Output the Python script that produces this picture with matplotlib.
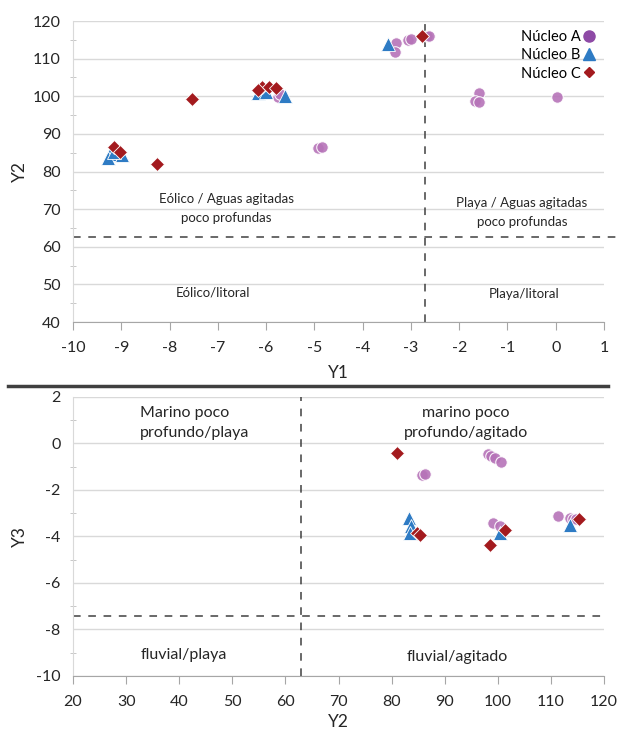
import matplotlib
matplotlib.use("Agg")
import matplotlib.pyplot as plt
from matplotlib.lines import Line2D
from matplotlib.ticker import MultipleLocator

plt.rcParams["font.family"] = ["Lato", "DejaVu Sans"]
plt.rcParams["axes.unicode_minus"] = False

# ── data: top panel (Y1 vs Y2) ──────────────────────────────────────
a_y1 = [-4.92, -4.85, -5.75, -5.71, -3.30, -3.33, -3.06, -3.00, -2.66, -2.62,
        -1.59, -1.68, -1.59, 0.03]
a_y2 = [86.3, 86.5, 99.7, 100.6, 114.2, 111.8, 114.9, 115.2, 116.1, 116.0,
        101.0, 98.8, 98.6, 99.9]
b_y1 = [-9.23, -9.27, -8.99, -9.15, -6.16, -6.00, -5.61, -3.47]
b_y2 = [84.6, 83.5, 84.4, 85.3, 101.0, 101.2, 100.1, 114.0]
c_y1 = [-9.15, -9.03, -8.27, -7.54, -6.09, -6.16, -5.94, -5.80, -2.78]
c_y2 = [86.4, 85.3, 81.9, 99.3, 102.4, 101.7, 102.4, 102.1, 116.1]

# ── data: bottom panel (Y2 vs Y3) ───────────────────────────────────
a2_y2 = [85.7, 86.2, 98.2, 98.8, 99.4, 100.6, 99.0, 100.5, 111.4, 113.6, 114.2, 114.8]
a2_y3 = [-1.35, -1.30, -0.45, -0.55, -0.62, -0.80, -3.40, -3.57, -3.12, -3.22, -3.26, -3.25]
b2_y2 = [83.3, 83.6, 83.5, 100.4, 113.6]
b2_y3 = [-3.22, -3.55, -3.84, -3.85, -3.50]
c2_y2 = [81.1, 84.8, 85.3, 101.4, 98.5, 115.2]
c2_y3 = [-0.40, -3.84, -3.92, -3.74, -4.36, -3.26]

series = ["Núcleo A", "Núcleo B", "Núcleo C"]

COL_A = "#B673B8"
COL_A_LEG = "#8E4AA6"
COL_B = "#2E7BC4"
COL_C = "#A31A1E"
GRID = "#D9D9D9"
DASH = "#404040"

fig = plt.figure(figsize=(6.22, 7.33), dpi=100)
fig.patch.set_facecolor("white")
ax1 = fig.add_axes([0.1174, 0.5607, 0.8537, 0.4106])
ax2 = fig.add_axes([0.1174, 0.0778, 0.8537, 0.3806])


def style(ax):
    for s in ("top", "right"):
        ax.spines[s].set_visible(False)
    ax.spines["left"].set_color(GRID)
    ax.spines["bottom"].set_color("#A6A6A6")
    ax.grid(axis="y", color=GRID, lw=1.0)
    ax.set_axisbelow(True)
    ax.tick_params(axis="x", direction="out", length=6, color="#A6A6A6",
                   labelsize=11.5, labelcolor="#262626", pad=8)
    ax.tick_params(axis="y", which="major", length=0, labelsize=11.5,
                   labelcolor="#262626", pad=9)
    ax.tick_params(axis="y", which="minor", direction="inout", length=5,
                   color="#BFBFBF")


def scatter(ax, xa, ya, xb, yb, xc, yc):
    ax.plot(xa, ya, "o", ms=8.3, mfc=COL_A, mec="white", mew=0.8, alpha=0.9,
            ls="none", zorder=3)
    ax.plot(xb, yb, "^", ms=9.5, mfc=COL_B, mec="white", mew=0.6,
            ls="none", zorder=4)
    ax.plot(xc, yc, "D", ms=6.8, mfc=COL_C, mec="white", mew=0.6,
            ls="none", zorder=5)


# ── top panel ───────────────────────────────────────────────────────
style(ax1)
scatter(ax1, a_y1, a_y2, b_y1, b_y2, c_y1, c_y2)
ax1.set_xlim(-10, 1)
ax1.set_ylim(40, 120)
ax1.xaxis.set_major_locator(MultipleLocator(1))
ax1.yaxis.set_major_locator(MultipleLocator(10))
ax1.yaxis.set_minor_locator(MultipleLocator(5))
ax1.axvline(-2.7, color=DASH, lw=1.1, ls=(0, (5, 5)), zorder=2)
ax1.plot([-10, 1.33], [62.5, 62.5], color=DASH, lw=1.1, ls=(0, (5, 5)),
         clip_on=False, zorder=2)
ax1.set_xlabel("Y1", fontsize=12.5, color="#262626", labelpad=7)
ax1.set_ylabel("Y2", fontsize=12.5, color="#262626", labelpad=3)

txt = dict(ha="center", va="center", fontsize=9.5, color="#262626")
ax1.text(-6.83, 72.7, "Eólico / Aguas agitadas", **txt)
ax1.text(-6.83, 67.6, "poco profundas", **txt)
ax1.text(-0.70, 71.7, "Playa / Aguas agitadas", **txt)
ax1.text(-0.70, 66.7, "poco profundas", **txt)
ax1.text(-7.10, 47.8, "Eólico/litoral", **txt)
ax1.text(-0.66, 47.4, "Playa/litoral", **txt)

handles = [
    Line2D([], [], marker="o", ls="none", ms=8, mfc=COL_A_LEG, mec=COL_A_LEG),
    Line2D([], [], marker="^", ls="none", ms=8, mfc=COL_B, mec=COL_B),
    Line2D([], [], marker="D", ls="none", ms=5.5, mfc=COL_C, mec=COL_C),
]
ax1.legend(handles, series, loc="upper right", bbox_to_anchor=(1.0, 1.0),
           markerfirst=False, frameon=False, fontsize=10.5, handletextpad=0.1,
           handlelength=0.9, labelspacing=0.3, borderaxespad=0.2)

# ── bottom panel ────────────────────────────────────────────────────
style(ax2)
scatter(ax2, a2_y2, a2_y3, b2_y2, b2_y3, c2_y2, c2_y3)
ax2.set_xlim(20, 120)
ax2.set_ylim(-10, 2)
ax2.xaxis.set_major_locator(MultipleLocator(10))
ax2.yaxis.set_major_locator(MultipleLocator(2))
ax2.yaxis.set_minor_locator(MultipleLocator(1))
ax2.axvline(63, color=DASH, lw=1.1, ls=(0, (5, 5)), zorder=2)
ax2.axhline(-7.42, color=DASH, lw=1.1, ls=(0, (5, 5)), zorder=2)
ax2.set_xlabel("Y2", fontsize=12.5, color="#262626", labelpad=3)
ax2.set_ylabel("Y3", fontsize=12.5, color="#262626", labelpad=6)

txt2 = dict(va="center", fontsize=11.5, color="#262626")
ax2.text(32.6, 1.30, "Marino poco", ha="left", **txt2)
ax2.text(32.6, 0.43, "profundo/playa", ha="left", **txt2)
ax2.text(94.0, 1.30, "marino poco", ha="center", **txt2)
ax2.text(94.0, 0.45, "profundo/agitado", ha="center", **txt2)
ax2.text(40.9, -9.1, "fluvial/playa", ha="center", **txt2)
ax2.text(92.3, -9.2, "fluvial/agitado", ha="center", **txt2)

# separator between the two panels
fig.add_artist(Line2D([8 / 622, 608 / 622], [1 - 385.5 / 733] * 2,
                      color="#404040", lw=2.5))

fig.savefig("out.png", dpi=100, facecolor="white")
